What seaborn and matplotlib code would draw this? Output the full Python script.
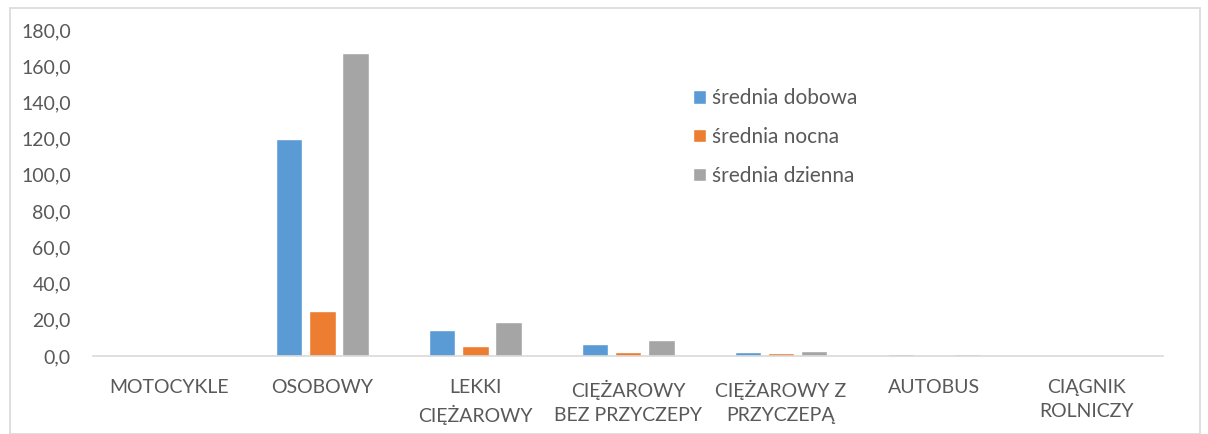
import matplotlib
matplotlib.use("Agg")
import matplotlib.pyplot as plt
import seaborn as sns
import pandas as pd
from matplotlib.ticker import FuncFormatter, MultipleLocator
from matplotlib.patches import Rectangle

categories = ["MOTOCYKLE", "OSOBOWY", "LEKKI\nCIĘŻAROWY", "CIĘŻAROWY\nBEZ PRZYCZEPY",
              "CIĘŻAROWY Z\nPRZYCZEPĄ", "AUTOBUS", "CIĄGNIK\nROLNICZY"]
series_names = ["średnia dobowa", "średnia nocna", "średnia dzienna"]
dobowa = [0.1, 119.8, 14.4, 6.3, 2.3, 1.0, 0.1]
nocna = [0.05, 24.8, 5.5, 1.9, 1.5, 0.2, 0.0]
dzienna = [0.15, 167.3, 18.8, 8.8, 2.9, 1.2, 0.1]
colors = ["#5B9BD5", "#ED7D31", "#A5A5A5"]

rows = []
for name, vals in zip(series_names, [dobowa, nocna, dzienna]):
    for c, v in zip(categories, vals):
        rows.append({"kat": c, "seria": name, "wartosc": v})
df = pd.DataFrame(rows)

sns.set_theme(style="white")
plt.rcParams["font.family"] = ["Lato", "DejaVu Sans"]
txt = "#595959"

fig = plt.figure(figsize=(12.08, 4.34), dpi=100)
ax = fig.add_axes([0.077, 0.180, 0.886, 0.751])
sns.barplot(data=df, x="kat", y="wartosc", hue="seria", order=categories,
            hue_order=series_names, palette=colors, width=0.65, gap=0.2,
            saturation=1, ax=ax, errorbar=None)

ax.set_ylim(0, 180)
ax.set_xlim(-0.5, len(categories) - 0.5)
ax.yaxis.set_major_locator(MultipleLocator(20))
ax.yaxis.set_major_formatter(FuncFormatter(lambda v, p: f"{v:.1f}".replace(".", ",")))
ax.set_xlabel("")
ax.set_ylabel("")
for s in ["top", "right", "left"]:
    ax.spines[s].set_visible(False)
ax.spines["bottom"].set_color("#D9D9D9")
ax.spines["bottom"].set_linewidth(1.2)
ax.tick_params(axis="y", length=0, pad=16, labelsize=14, labelcolor=txt)
ax.tick_params(axis="x", length=0, pad=17, labelsize=14, labelcolor=txt)
for lab in ax.get_xticklabels():
    lab.set_linespacing(1.5)
    lab.set_verticalalignment("top")

leg = ax.legend(loc="upper left", bbox_to_anchor=(0.543, 0.879), frameon=False,
                fontsize=15, labelcolor=txt, handlelength=0.62, handleheight=0.62,
                handletextpad=0.3, labelspacing=0.9)

fig.patches.append(Rectangle((0.008, 0.0), 0.985, 0.982, transform=fig.transFigure,
                             fill=False, edgecolor="#D9D9D9", linewidth=1.2))
fig.savefig("out.png", dpi=100)
